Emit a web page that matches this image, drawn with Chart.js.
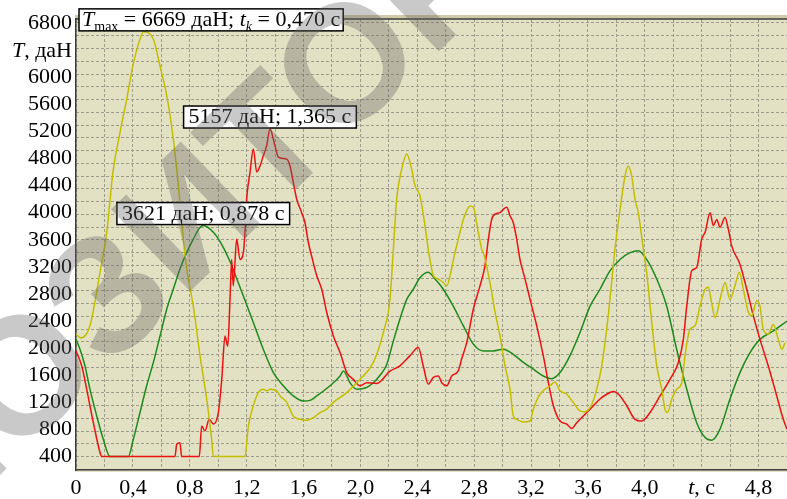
<!DOCTYPE html>
<html>
<head>
<meta charset="utf-8">
<script src="https://cdn.jsdelivr.net/npm/chart.js@4.4.0/dist/chart.umd.min.js"></script>
<style>
  html, body { margin: 0; padding: 0; background: #fff; }
  #wrap { width: 787px; height: 499px; }
</style>
</head>
<body>
<div id="wrap"><canvas id="chart"></canvas></div>
<script>
// tick labels
const xTickValues = [0, 0.4, 0.8, 1.2, 1.6, 2.0, 2.4, 2.8, 3.2, 3.6, 4.0, 4.4, 4.8]
const yTickValues = [400, 800, 1200, 1600, 2000, 2400, 2800, 3200, 3600, 4000, 4400, 4800, 5200, 5600, 6000, 6400, 6800]
const xUnitLabel = ['t', ', с']      // replaces the 4,4 tick
const yUnitLabel = ['T', ', даН']    // replaces the 6400 tick

// yellow series
const yellowTime = [0,0.035,0.098,0.169,0.216,0.26,0.31,0.357,0.40,0.45,
  0.475,0.544,0.59,0.638,0.684,0.72,0.75,0.767,0.79,0.825,
  0.872,0.919,0.954,0.966,1.188,1.212,1.247,1.282,1.317,1.341,
  1.364,1.411,1.435,1.482,1.528,1.575,1.622,1.669,1.716,1.763,
  1.81,1.904,1.997,2.091,2.161,2.208,2.23,2.255,2.29,2.326,
  2.361,2.384,2.419,2.454,2.477,2.489,2.513,2.548,2.583,2.607,
  2.63,2.665,2.677,2.724,2.771,2.794,2.829,2.853,2.865,2.911,
  2.947,2.982,3.017,3.052,3.075,3.099,3.146,3.193,3.216,3.263,
  3.333,3.368,3.404,3.451,3.497,3.544,3.579,3.627,3.662,3.697,
  3.732,3.767,3.79,3.826,3.861,3.884,3.908,3.931,3.954,3.99,
  4.013,4.049,4.084,4.119,4.142,4.159,4.19,4.224,4.26,4.283,
  4.318,4.353,4.388,4.424,4.447,4.47,4.494,4.529,4.564,4.599,
  4.634,4.665,4.693,4.728,4.752,4.787,4.81,4.833,4.868,4.904,
  4.939,4.963,4.986]
const yellowForce = [2206,2150,2330,3120,3710,4600,5190,5680,6170,6560,
  6669,6560,6170,5730,5090,4400,3710,3360,3020,2620,
  1890,1250,655,400,400,850,1150,1345,1395,1370,
  1395,1370,1295,1200,1000,950,935,975,1050,1100,
  1200,1345,1540,1790,2230,2720,3400,4200,4640,4865,
  4640,4400,4250,3810,3460,3310,3070,3020,2970,2920,
  3070,3410,3510,3900,4100,4080,3710,3460,3410,2970,
  2530,2180,1740,1395,1000,950,910,925,1100,1320,
  1445,1500,1370,1320,1200,1075,1060,1170,1395,1740,
  2280,2970,3460,4050,4540,4690,4540,4200,4000,3460,
  3120,2380,1740,1395,1100,1050,1250,1395,1490,1890,
  2280,2330,2620,2870,2900,2670,2450,2720,2970,2720,
  2920,3120,2870,2530,2480,2700,2620,2280,2210,2350,
  2130,1985,2080]

// red series
const redTime = [0,0.04,0.075,0.122,0.169,0.181,0.696,0.708,0.731,0.743,
  0.867,0.884,0.907,0.937,0.966,1.001,1.025,1.048,1.067,1.083,
  1.095,1.106,1.13,1.153,1.177,1.188,1.2,1.224,1.247,1.271,
  1.294,1.317,1.341,1.364,1.399,1.423,1.482,1.505,1.528,1.552,
  1.587,1.61,1.634,1.657,1.693,1.728,1.763,1.81,1.857,1.904,
  1.95,1.997,2.044,2.115,2.208,2.278,2.349,2.407,2.442,2.477,
  2.513,2.548,2.572,2.607,2.642,2.688,2.712,2.748,2.794,2.841,
  2.876,2.9,2.923,2.947,2.982,3.005,3.029,3.052,3.075,3.099,
  3.122,3.158,3.193,3.24,3.286,3.322,3.357,3.404,3.451,3.486,
  3.521,3.568,3.638,3.685,3.732,3.779,3.826,3.873,3.931,3.978,
  4.037,4.107,4.177,4.236,4.271,4.295,4.33,4.365,4.4,4.424,
  4.459,4.482,4.506,4.529,4.564,4.587,4.611,4.669,4.717,4.763,
  4.81,4.868,4.928,4.974,5.0]
const redForce = [1960,1740,1395,900,460,400,400,580,605,400,
  400,850,780,950,880,1050,1540,2180,2030,2720,
  3310,2920,3610,3310,3410,3700,4200,4600,4940,4600,
  4690,4840,4990,5235,4990,4820,4790,4690,4450,4200,
  4000,3855,3560,3360,3070,2870,2530,2180,1935,1640,
  1540,1445,1490,1480,1660,1740,1890,2010,1740,1470,
  1570,1590,1490,1445,1590,1665,1840,2085,2575,2920,
  3215,3610,3900,3980,4000,4050,4080,3955,3855,3610,
  3310,3020,2720,2330,1890,1490,1150,925,880,815,
  900,1000,1150,1250,1320,1360,1295,1150,950,925,
  1050,1295,1540,1790,2130,2620,3140,3190,3610,3710,
  4000,3810,3900,3785,3930,3760,3510,3240,2870,2480,
  2130,1740,1295,950,805]

// green series
const greenTime = [0,0.028,0.063,0.098,0.146,0.192,0.239,0.368,0.403,0.45,
  0.497,0.544,0.591,0.638,0.684,0.731,0.778,0.825,0.872,0.895,
  0.966,1.025,1.083,1.13,1.177,1.247,1.317,1.388,1.458,1.528,
  1.598,1.646,1.693,1.786,1.857,1.88,1.927,1.974,2.044,2.091,
  2.138,2.185,2.231,2.278,2.326,2.372,2.419,2.477,2.525,2.583,
  2.653,2.724,2.794,2.864,2.935,3.005,3.075,3.146,3.216,3.286,
  3.345,3.404,3.474,3.544,3.615,3.685,3.755,3.826,3.896,3.954,
  4.013,4.084,4.154,4.224,4.295,4.365,4.424,4.47,4.529,4.599,
  4.669,4.74,4.81,4.904,5.0]
const greenForce = [2130,1985,1740,1395,1000,655,400,400,655,1050,
  1445,1790,2180,2575,2870,3170,3410,3610,3780,3810,
  3710,3530,3280,3030,2770,2380,1985,1640,1445,1295,
  1220,1230,1295,1445,1590,1665,1490,1395,1420,1490,
  1600,1760,2100,2430,2720,2870,3040,3120,3020,2870,
  2620,2330,2060,1960,1960,1985,1910,1790,1690,1590,
  1550,1640,1890,2230,2620,2870,3140,3310,3410,3440,
  3310,3020,2620,1985,1395,900,680,640,805,1250,
  1640,1935,2130,2255,2400]

// peak labels, one per series
const peakLabels = [
  [['T', 'i'], ['max', 'sub'], [' = 6669 даН; ', ''], ['t', 'i'], ['k', 'isub'], [' = 0,470 с', '']],
  [['5157 даН; 1,365 с', '']],
  [['3621 даН; 0,878 с', '']]
]

const SERIF = '"Liberation Serif", "Times New Roman", serif'
const fonts = {
  '': '22px ' + SERIF,
  'i': 'italic 22px ' + SERIF,
  'sub': '14px ' + SERIF,
  'isub': 'italic 14px ' + SERIF
}

function toPoints(ts, vs) {
  return ts.map((t, i) => ({ x: t, y: vs[i] }))
}

function fmtTime(v) {
  if (Math.abs(v) < 1e-9) return '0'
  return v.toFixed(1).replace('.', ',')
}

function richWidth(ctx, parts) {
  let w = 0
  parts.forEach(([txt, st]) => { ctx.font = fonts[st]; w += ctx.measureText(txt).width })
  return w
}

function drawRich(ctx, parts, x, y) {
  ctx.textAlign = 'left'
  ctx.textBaseline = 'alphabetic'
  parts.forEach(([txt, st]) => {
    ctx.font = fonts[st]
    const dy = (st === 'sub' || st === 'isub') ? 5 : 0
    ctx.fillText(txt, x, y + dy)
    x += ctx.measureText(txt).width
  })
}

const series = [
  { label: 'yellow', t: yellowTime, v: yellowForce, color: '#c4be00' },
  { label: 'red', t: redTime, v: redForce, color: '#ea1212' },
  { label: 'green', t: greenTime, v: greenForce, color: '#1c8a1c' }
]

const decorPlugin = {
  id: 'decor',
  beforeDraw(chart) {
    const { ctx, chartArea: a } = chart
    ctx.save()
    ctx.fillStyle = '#cfcaa8'
    ctx.fillRect(a.left - 1, a.top - 4, a.right - a.left + 1, 4)
    ctx.fillStyle = '#e3e1c3'
    ctx.fillRect(a.left - 1, a.top, a.right - a.left + 1, a.bottom - a.top + 2)
    ctx.restore()
  },
  afterDraw(chart) {
    const { ctx, chartArea: a, scales } = chart
    ctx.save()
    // top frame line
    ctx.strokeStyle = '#3c3c3c'
    ctx.lineWidth = 1.5
    ctx.beginPath()
    ctx.moveTo(a.left, a.top)
    ctx.lineTo(a.right, a.top)
    ctx.stroke()

    // unit labels in place of ticks
    ctx.fillStyle = '#000'
    const yy = scales.y.getPixelForValue(6400)
    const uw = richWidth(ctx, [[yUnitLabel[0], 'i'], [yUnitLabel[1], '']])
    drawRich(ctx, [[yUnitLabel[0], 'i'], [yUnitLabel[1], '']], a.left - 4 - uw, yy + 7)
    const xx = scales.x.getPixelForValue(4.4)
    const xw = richWidth(ctx, [[xUnitLabel[0], 'i'], [xUnitLabel[1], '']])
    drawRich(ctx, [[xUnitLabel[0], 'i'], [xUnitLabel[1], '']], xx - xw / 2, a.bottom + 24)

    // peak boxes
    series.forEach((s, i) => {
      let k = 0
      s.v.forEach((v, j) => { if (v > s.v[k]) k = j })
      const px = scales.x.getPixelForValue(s.t[k])
      const py = scales.y.getPixelForValue(s.v[k])
      const parts = peakLabels[i]
      const w = richWidth(ctx, parts) + (i === 0 ? 6 : 10)
      const h = 22
      const x0 = i === 0 ? a.left + 3 : px - w / 2
      const y0 = py - 1 - h
      ctx.fillStyle = '#fff'
      ctx.fillRect(x0, y0, w, h)
      ctx.strokeStyle = '#000'
      ctx.lineWidth = 1.5
      ctx.strokeRect(x0, y0, w, h)
      ctx.fillStyle = '#000'
      drawRich(ctx, parts, x0 + (i === 0 ? 3 : 5), y0 + 17)
    })

    // watermark
    ctx.translate(194, 224)
    ctx.rotate(-44 * Math.PI / 180)
    ctx.font = 'bold 166px "Liberation Sans", Arial, sans-serif'
    ctx.fillStyle = 'rgba(100,100,100,0.35)'
    ctx.textAlign = 'center'
    ctx.textBaseline = 'middle'
    ctx.fillText('РЕПОЗИТОРИЙ', 0, 0)
    ctx.restore()
  }
}

new Chart(document.getElementById('chart'), {
  type: 'line',
  data: {
    datasets: series.map(s => ({
      label: s.label,
      data: toPoints(s.t, s.v),
      borderColor: s.color,
      borderWidth: 1.5,
      pointRadius: 0,
      fill: false,
      cubicInterpolationMode: 'monotone'
    }))
  },
  options: {
    responsive: true,
    maintainAspectRatio: false,
    animation: false,
    layout: { padding: { top: 19, right: 0, bottom: 0, left: 0 } },
    plugins: {
      legend: { display: false },
      tooltip: { enabled: false }
    },
    scales: {
      x: {
        type: 'linear',
        min: 0,
        max: 5,
        afterBuildTicks: axis => {
          const ticks = []
          for (let k = 0; k <= 25; k++) ticks.push({ value: k / 5 })
          axis.ticks = ticks
        },
        afterFit: axis => {
          axis.height = 29
          axis.paddingLeft = 0
          axis.paddingRight = 0
        },
        ticks: {
          autoSkip: false,
          maxRotation: 0,
          padding: 5,
          color: '#000',
          font: { family: SERIF, size: 22 },
          callback: value => {
            const hit = xTickValues.some(t => Math.abs(t - value) < 1e-6)
            if (!hit || Math.abs(value - 4.4) < 1e-6) return ''
            return fmtTime(value)
          }
        },
        grid: { color: '#9e9c8a', lineWidth: 1, drawTicks: false },
        border: { display: true, color: '#3c3c3c', width: 1.5, dash: [3, 2] }
      },
      y: {
        type: 'linear',
        position: 'left',
        min: 202,
        max: 6859,
        afterBuildTicks: axis => {
          axis.ticks = yTickValues.map(v => ({ value: v }))
        },
        afterFit: axis => { axis.width = 76 },
        ticks: {
          autoSkip: false,
          padding: 4,
          color: '#000',
          font: { family: SERIF, size: 22 },
          callback: value => value === 6400 ? '' : String(value)
        },
        grid: { display: false, drawTicks: false },
        border: { display: true, color: '#3c3c3c', width: 1.5 }
      },
      yg: {
        type: 'linear',
        position: 'right',
        min: 202,
        max: 6859,
        afterBuildTicks: axis => {
          const ticks = []
          const step = (6800 - 400) / 34
          for (let k = -1; k <= 34; k++) ticks.push({ value: 400 + k * step })
          axis.ticks = ticks
        },
        afterFit: axis => { axis.width = 0 },
        ticks: { display: false },
        grid: { color: '#9e9c8a', lineWidth: 1, drawTicks: false },
        border: { display: false, dash: [3, 2] }
      }
    }
  },
  plugins: [decorPlugin]
})
</script>
</body>
</html>
